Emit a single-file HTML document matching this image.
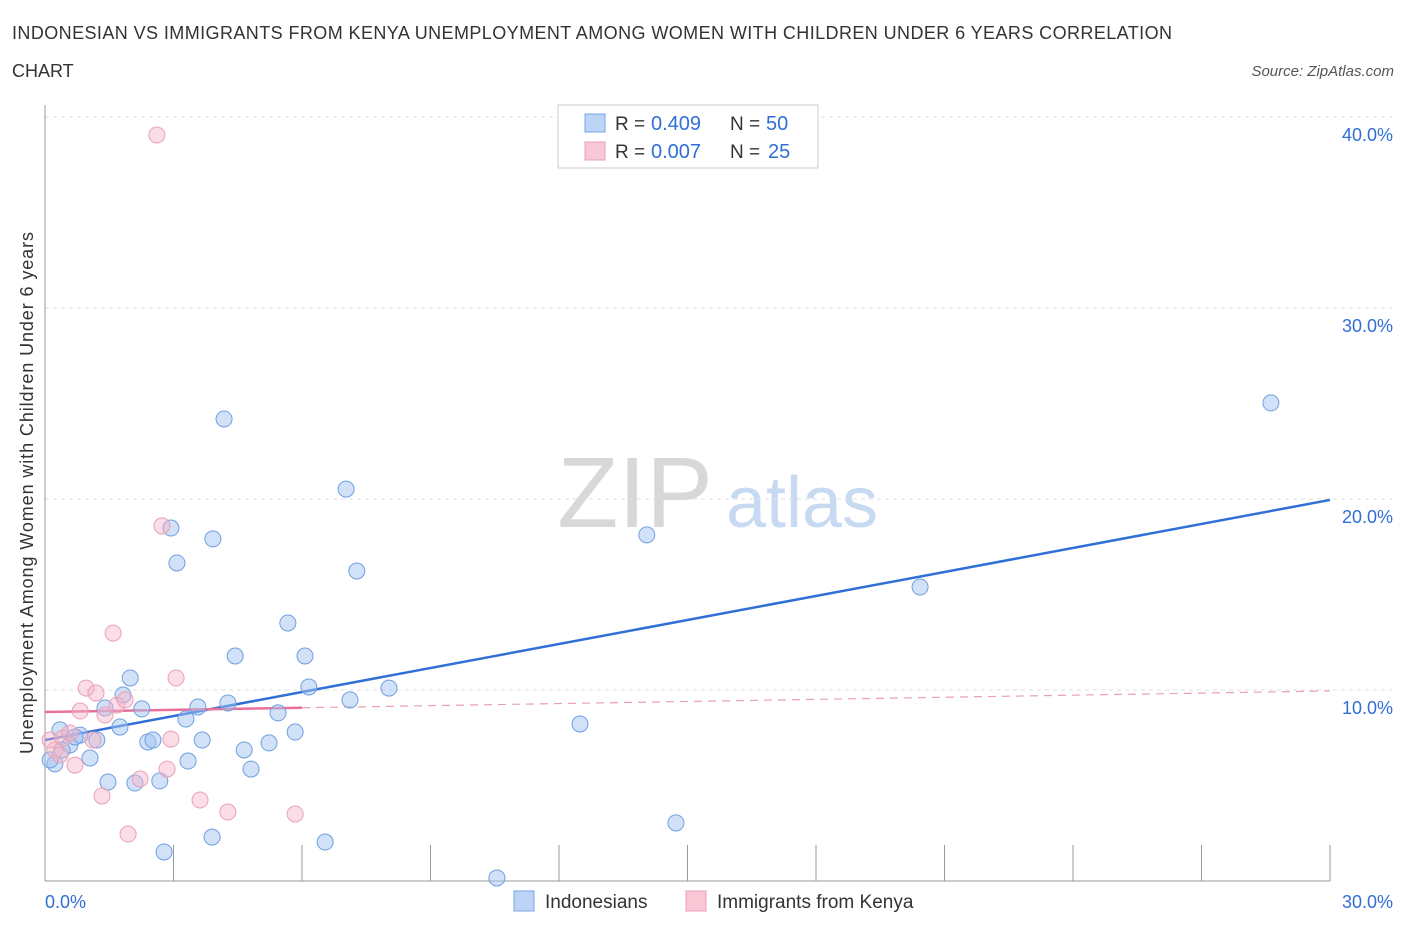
<!DOCTYPE html>
<html><head><meta charset="utf-8"><style>
body{margin:0;background:#fff;font-family:"Liberation Sans",sans-serif;}
svg text{font-family:"Liberation Sans",sans-serif;}
</style></head><body>
<svg id="chart" width="1406" height="930" xmlns="http://www.w3.org/2000/svg">
<text x="12" y="39" font-size="18" fill="#333" textLength="1160" lengthAdjust="spacing">INDONESIAN VS IMMIGRANTS FROM KENYA UNEMPLOYMENT AMONG WOMEN WITH CHILDREN UNDER 6 YEARS CORRELATION</text>
<text x="12" y="77" font-size="18" fill="#333">CHART</text>
<text x="1394" y="76" font-size="15" font-style="italic" fill="#555" text-anchor="end">Source: ZipAtlas.com</text>
<text transform="translate(33,493) rotate(-90)" font-size="18" fill="#333" text-anchor="middle" textLength="522" lengthAdjust="spacing">Unemployment Among Women with Children Under 6 years</text>
<g><text x="635" y="527" font-size="100" font-family="Liberation Serif" fill="#d8d8d8" text-anchor="middle">ZIP</text><text x="802" y="527" font-size="72" fill="#c8daf2" text-anchor="middle">atlas</text></g>
<g id="grid"></g><g id="axes"></g><g id="trends"></g><g id="points"></g>
<g>
<rect x="558" y="105" width="260" height="63" fill="#fff" stroke="#ccc"/>
<rect x="585" y="114" width="20" height="18" fill="#bcd4f6" stroke="#7aa6e6"/>
<text x="615" y="130" font-size="19" fill="#333">R =</text><text x="651" y="130" font-size="20" fill="#2f6fd6">0.409</text>
<text x="730" y="130" font-size="19" fill="#333">N =</text><text x="766" y="130" font-size="20" fill="#2f6fd6">50</text>
<rect x="585" y="142" width="20" height="18" fill="#f8c8d6" stroke="#eaa0b8"/>
<text x="615" y="158" font-size="19" fill="#333">R =</text><text x="651" y="158" font-size="20" fill="#2f6fd6">0.007</text>
<text x="730" y="158" font-size="19" fill="#333">N =</text><text x="768" y="158" font-size="20" fill="#2f6fd6">25</text>
</g>
<g>
<rect x="514" y="891" width="20" height="20" fill="#bcd4f6" stroke="#7aa6e6"/>
<text x="545" y="908" font-size="19" fill="#333">Indonesians</text>
<rect x="686" y="891" width="20" height="20" fill="#f8c8d6" stroke="#eaa0b8"/>
<text x="717" y="908" font-size="19" fill="#333">Immigrants from Kenya</text>
</g>
</svg>
<script>
const yTicks=[10,20,30,40];
const yTickLabels=["10.0%","20.0%","30.0%","40.0%"];
const xTicks=[0,3,6,9,12,15,18,21,24,27,30];
const xEndLabels=["0.0%","30.0%"];
const blueX=[0.23,0.35,0.58,0.82,1.05,1.21,1.40,1.47,1.75,1.82,1.99,2.10,2.26,2.40,2.52,2.68,2.78,2.94,3.08,3.29,3.34,3.57,3.67,3.90,3.92,4.18,4.27,4.44,4.65,4.81,5.23,5.44,5.67,5.84,6.07,6.16,6.54,7.03,7.12,7.28,8.03,10.55,12.49,14.05,14.73,20.43,28.62,0.12,0.40,0.70];
const blueY=[6.13,7.91,7.12,7.64,6.44,7.38,9.06,5.18,8.06,9.74,10.63,5.13,9.01,7.28,7.38,5.24,1.52,18.48,16.65,8.48,6.28,9.11,7.38,2.30,17.91,24.19,9.32,11.78,6.86,5.86,7.23,8.80,13.51,7.80,11.78,10.16,2.04,20.52,9.48,16.23,10.10,0.16,8.22,18.12,3.04,15.39,25.03,6.34,6.86,7.54];
const pinkX=[2.61,2.73,1.59,3.06,0.96,1.19,0.82,1.40,1.68,1.87,1.12,0.42,0.23,0.12,0.58,0.70,1.33,1.94,2.22,2.85,2.94,3.62,4.27,5.84,0.35];
const pinkY=[39.06,18.59,12.98,10.63,10.10,9.84,8.90,8.69,9.21,9.48,7.38,7.49,6.86,7.38,7.75,6.07,4.45,2.46,5.34,5.86,7.43,4.24,3.61,3.51,6.60];
const blueTrend=[7.38,19.95];
const pinkTrend=[8.85,9.95];
const pinkSolidEnd=6.0;
const NS="http://www.w3.org/2000/svg";
const X=v=>45+v/30*1285, Y=v=>881-v/10*191;
function mk(tag,a,parent){const e=document.createElementNS(NS,tag);for(const k in a)e.setAttribute(k,a[k]);document.getElementById(parent).appendChild(e);return e;}
yTicks.forEach((t,i)=>{
 const l=mk('line',{x1:45,x2:1392,y1:Y(t),y2:Y(t),stroke:'#ddd','stroke-dasharray':'4,4'},'grid');
 
 
 const tx=mk('text',{x:1393,y:Y(t)+24,'font-size':18,fill:'#2f6fd6','text-anchor':'end'},'grid');tx.textContent=yTickLabels[i];
 
 
});
const ax=mk('line',{x1:45,x2:45,y1:105,y2:881,stroke:'#999'},'axes');


const bx=mk('line',{x1:45,x2:1330,y1:881,y2:881,stroke:'#999'},'axes');


xTicks.slice(1).forEach(t=>{const l=mk('line',{x1:X(t),x2:X(t),y1:845,y2:881,stroke:'#999'},'axes');
 
 });
const t0=mk('text',{x:45,y:908,'font-size':18,fill:'#2f6fd6'},'axes');t0.textContent=xEndLabels[0];


const t1=mk('text',{x:1393,y:908,'font-size':18,fill:'#2f6fd6','text-anchor':'end'},'axes');t1.textContent=xEndLabels[1];


blueX.forEach((v,i)=>{const c=mk('circle',{cx:X(v),cy:Y(blueY[i]),r:8,fill:'rgba(164,196,240,0.5)',stroke:'#6f9fe0','stroke-width':1},'points');
 
 });
pinkX.forEach((v,i)=>{const c=mk('circle',{cx:X(v),cy:Y(pinkY[i]),r:8,fill:'rgba(245,180,200,0.45)',stroke:'#eaa0b8','stroke-width':1},'points');
 
 });
const bt=mk('line',{x1:X(0),y1:Y(blueTrend[0]),x2:X(30),y2:Y(blueTrend[1]),stroke:'#2f6fd6','stroke-width':2.5},'trends');


const py=x=>pinkTrend[0]+(pinkTrend[1]-pinkTrend[0])*x/30;
const ps=mk('line',{x1:X(0),y1:Y(py(0)),x2:X(pinkSolidEnd),y2:Y(py(pinkSolidEnd)),stroke:'#e8709a','stroke-width':2.5},'trends');


const pd=mk('line',{x1:X(pinkSolidEnd),y1:Y(py(pinkSolidEnd)),x2:X(30),y2:Y(py(30)),stroke:'#e8a0b8','stroke-width':1.2,'stroke-dasharray':'8,6'},'trends');


</script>
</body></html>
